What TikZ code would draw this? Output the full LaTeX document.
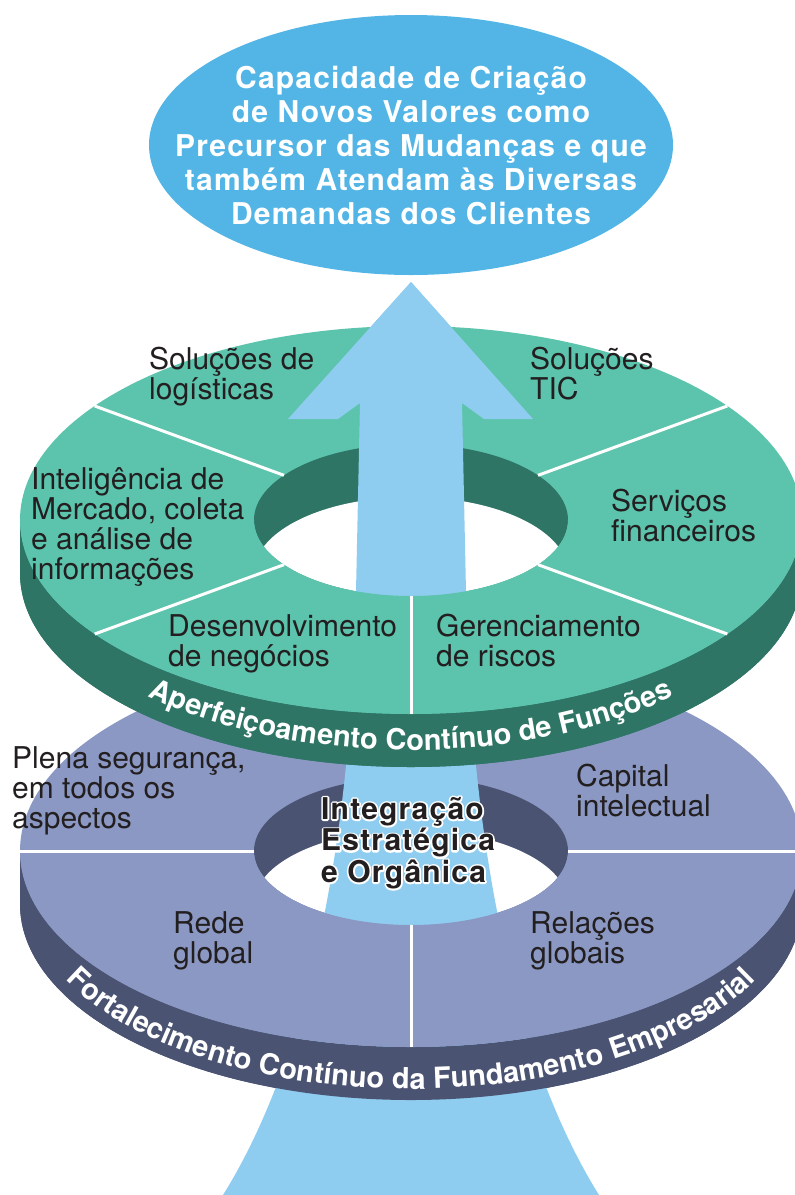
\documentclass[tikz,border=0pt]{standalone}
\usepackage{fontspec}
\setmainfont{TeX Gyre Heros}
\newfontfamily\goalfamily{TeX Gyre Heros}[LetterSpace=4]
\usetikzlibrary{decorations.text}

\definecolor{bubbleblue}{RGB}{82,181,230}
\definecolor{arrowblue}{RGB}{143,205,240}
\definecolor{greentop}{RGB}{92,195,172}
\definecolor{greenside}{RGB}{46,117,102}
\definecolor{purpletop}{RGB}{138,152,195}
\definecolor{purpleside}{RGB}{74,83,114}
\definecolor{labelink}{RGB}{35,31,32}

\newcommand{\bandfont}{\fontsize{29}{29}\selectfont\bfseries}
\newcommand{\rimon}{\special{pdf:literal direct 1 1 1 RG 3.5 w 1 j 1 Tr}}
\newcommand{\rimoff}{\special{pdf:literal direct 0 Tr}}
\newcommand{\arrowpath}{(411,282) -- (533,419) -- (484,419) -- (462,403) -- (466,592)
  .. controls (471,850) and (515,1060) .. (599,1195) -- (599,1200) -- (223,1200) -- (223,1195)
  .. controls (307,1060) and (351,850) .. (356,592) -- (360,403) -- (338,419) -- (288,419) -- cycle}

\tikzset{
  goal text/.style={align=center, inner sep=0pt, text=white,
    font=\goalfamily\fontsize{30}{34}\selectfont\bfseries},
  label text/.style={anchor=north west, align=left, inner sep=0pt, text=labelink,
    font=\fontsize{30}{30}\selectfont},
  core text/.style={anchor=north west, align=left, inner sep=0pt, text=labelink,
    font=\goalfamily\fontsize{30}{31.5}\selectfont\bfseries},
  divider/.style={draw=white, line width=3pt}
}

\begin{document}
\begin{tikzpicture}[x=1pt, y=-1pt]
\useasboundingbox (0,0) rectangle (795,1195);
\clip (0,0) rectangle (795,1195);

% goal bubble
\fill[bubbleblue] (411,145) ellipse [x radius=262, y radius=130];
\node[goal text] (goal) at (411,145) {Capacidade de Criação\\de Novos Valores como\\Precursor das Mudanças e que\\também Atendam às Diversas\\Demandas dos Clientes};

% lower ring
\begin{scope}[shift={(411,851)}]
  \fill[purpleside] (-391,0) rectangle (391,53);
  \fill[purpleside] (0,53) ellipse [x radius=391, y radius=196];
  \fill[purpletop] (0,0) ellipse [x radius=391, y radius=196];
  \fill[purpleside] (0,0) ellipse [x radius=157, y radius=74];
  \begin{scope}
    \clip (0,0) ellipse [x radius=157, y radius=74];
    \fill[white] (0,53) ellipse [x radius=157, y radius=74];
  \end{scope}
\end{scope}

% arrow through both rings
\fill[arrowblue] \arrowpath;

% lower ring, front half again
\begin{scope}[shift={(411,851)}]
  \fill[purpleside] (-391,0) -- (-391,53) arc [start angle=180, end angle=0, x radius=391, y radius=196]
    -- (391,0) arc [start angle=0, end angle=180, x radius=391, y radius=196] -- cycle;
  \fill[purpletop] (391,0) arc [start angle=0, end angle=180, x radius=391, y radius=196]
    -- (-157,0) arc [start angle=180, end angle=0, x radius=157, y radius=74] -- cycle;
  \draw[divider] (180:157 and 74) -- (180:391 and 196);
  \draw[divider] (0:157 and 74) -- (0:391 and 196);
  \draw[divider] (90:157 and 74) -- (90:391 and 196);
\end{scope}

% upper ring
\begin{scope}[shift={(411,520)}]
  \fill[greenside] (-391,0) rectangle (391,53);
  \fill[greenside] (0,53) ellipse [x radius=391, y radius=194];
  \fill[greentop] (0,0) ellipse [x radius=391, y radius=194];
  \fill[greenside] (0,0) ellipse [x radius=157, y radius=76];
  \begin{scope}
    \clip (0,0) ellipse [x radius=157, y radius=76];
    \fill[white] (0,53) ellipse [x radius=157, y radius=76];
  \end{scope}
  \draw[divider] (216:157 and 76) -- (216:391 and 194);
  \draw[divider] (324:157 and 76) -- (324:391 and 194);
\end{scope}

% arrow again over the upper ring
\begin{scope}
  \clip (0,0) rectangle (795,700);
  \fill[arrowblue] \arrowpath;
\end{scope}

% upper ring, front half again
\begin{scope}[shift={(411,520)}]
  \fill[greenside] (-391,0) -- (-391,53) arc [start angle=180, end angle=0, x radius=391, y radius=194]
    -- (391,0) arc [start angle=0, end angle=180, x radius=391, y radius=194] -- cycle;
  \fill[greentop] (391,0) arc [start angle=0, end angle=180, x radius=391, y radius=194]
    -- (-157,0) arc [start angle=180, end angle=0, x radius=157, y radius=76] -- cycle;
  \draw[divider] (36:157 and 76) -- (36:391 and 194);
  \draw[divider] (144:157 and 76) -- (144:391 and 194);
  \draw[divider] (90:157 and 76) -- (90:391 and 194);
\end{scope}

% texts on the ring sides
\path[decorate, decoration={text along path, text color=white, text align=center,
  text={|\bandfont|Aperfeiçoamento Contínuo de Funções}}]
  ([shift={(411,556)}]160:380 and 194) arc [start angle=160, end angle=20, x radius=380, y radius=194];
\path[decorate, decoration={text along path, text color=white, text align=center,
  text={|\bandfont|Fortalecimento Contínuo da Fundamento Empresarial}}]
  ([shift={(411,893)}]170:385 and 196) arc [start angle=170, end angle=10, x radius=385, y radius=196];

% labels, upper ring
\node[label text] (logist) at (149,347) {Soluções de\\logísticas};
\node[label text] (tic) at (530,347) {Soluções\\TIC};
\node[label text] (intel) at (31,467) {Inteligência de\\Mercado, coleta\\e análise de\\informações};
\node[label text] (financ) at (611,489) {Serviços\\financeiros};
\node[label text] (desenv) at (168,614) {Desenvolvimento\\de negócios};
\node[label text] (riscos) at (436,614) {Gerenciamento\\de riscos};

% labels, lower ring
\node[label text] (seguranca) at (12,746) {Plena segurança,\\em todos os\\aspectos};
\node[label text] (capital) at (576,764) {Capital\\intelectual};
\node[label text] (rede) at (173,911) {Rede\\global};
\node[label text] (relacoes) at (530,911) {Relações\\globais};

% centre text with white rim
\node[core text, text=white] (integr rim) at (321,797) {\rimon Integração\\Estratégica\\e Orgânica\rimoff};
\node[core text] (integr) at (321,797) {Integração\\Estratégica\\e Orgânica};
\end{tikzpicture}
\end{document}
